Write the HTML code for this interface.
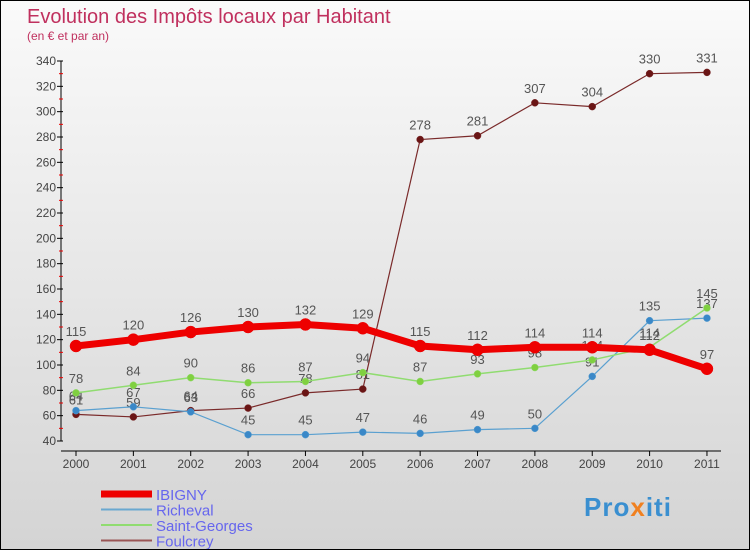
<!DOCTYPE html>
<html><head><meta charset="utf-8"><style>
body{margin:0}
#c{width:748px;height:548px;border:1px solid #000;background:linear-gradient(#fafafa,#d4d4d4);position:relative;font-family:"Liberation Sans",sans-serif}
</style></head><body>
<div id="c">
<svg id="s" width="748" height="548" xmlns="http://www.w3.org/2000/svg">
<text x="26" y="22" font-size="20" fill="#c0305e">Evolution des Impôts locaux par Habitant</text>
<text x="26" y="39" font-size="12" fill="#c0305e">(en € et par an)</text>
</svg></div>
<script>
const years=["2000","2001","2002","2003","2004","2005","2006","2007","2008","2009","2010","2011"];
const ibigny=[115,120,126,130,132,129,115,112,114,114,112,97];
const richeval=[64,67,63,45,45,47,46,49,50,91,135,137];
const saintGeorges=[78,84,90,86,87,94,87,93,98,104,114,145];
const foulcrey=[61,59,64,66,78,81,278,281,307,304,330,331];
const yTicks=[40,60,80,100,120,140,160,180,200,220,240,260,280,300,320,340];
const s=document.getElementById('s');const NS="http://www.w3.org/2000/svg";
function X(i){return 75+i*57.36}
function Y(v){return 440-(v-40)*380/300}
function mk(t,a,p){const e=document.createElementNS(NS,t);for(const k in a)e.setAttribute(k,a[k]);(p||s).appendChild(e);return e}
const ax=mk('line',{x1:60,y1:Y(340),x2:60,y2:Y(40),stroke:'#000','stroke-width':1});


yTicks.forEach(v=>{mk('line',{x1:56,x2:62,y1:Y(v),y2:Y(v),stroke:'#000'});
 if(v<340)mk('line',{x1:58,x2:62,y1:Y(v+10),y2:Y(v+10),stroke:'#e00'});
 const t=mk('text',{x:55,y:Y(v)+4,'text-anchor':'end','font-size':12,fill:'#444'});t.textContent=v;
 
 });
const xa=mk('line',{x1:60,x2:720,y1:450,y2:450,stroke:'#000'});


years.forEach((y,i)=>{mk('line',{x1:X(i),x2:X(i),y1:450,y2:455,stroke:'#000'});
 const t=mk('text',{x:X(i),y:467,'text-anchor':'middle','font-size':12,fill:'#444'});t.textContent=y;
 
 });
function series(d,col,w,r,name,ptcol){
 const g=mk('g',{});
 
 
 mk('polyline',{points:d.map((v,i)=>X(i)+','+Y(v)).join(' '),fill:'none',stroke:col,'stroke-width':w},g);
 d.forEach((v,i)=>{const c=mk('circle',{cx:X(i),cy:Y(v),r:r,fill:ptcol,stroke:col,'stroke-width':0.5},g);
  
  
  const t=mk('text',{x:X(i),y:Y(v)-10,'text-anchor':'middle','font-size':13,fill:'#555'},g);t.textContent=v;
  
  });
}
series(foulcrey,'#7a2a2a',1.2,3.5,'foulcrey','#6a1515');
series(richeval,'#5aa0d0',1.2,3.5,'richeval','#3a88c8');
series(saintGeorges,'#90dc70',1.5,3.5,'saint-georges','#80d040');
series(ibigny,'#ee0000',7,6,'ibigny','#ee0000');
const leg=[['IBIGNY','#ee0000',7],['Richeval','#6aa8d0',2],['Saint-Georges','#90dc70',2],['Foulcrey','#9a5555',2]];
leg.forEach((l,i)=>{const y=491+i*15.5;const g=mk('g',{});
 
 
 mk('line',{x1:100,x2:151,y1:y+2,y2:y+2,stroke:l[1],'stroke-width':l[2]},g);
 const t=mk('text',{x:155,y:y+8,'font-size':15,fill:'#6666ee'},g);t.textContent=l[0];});
const p=mk('text',{x:583,y:515,'font-size':26,'font-weight':'bold',fill:'#3a8fd0','letter-spacing':'1'});


const parts=[['Pro','#3a8fd0'],['x','#f08020'],['iti','#3a8fd0']];
parts.forEach(q=>{const ts=mk('tspan',{fill:q[1]},p);ts.textContent=q[0];});
</script>
</body></html>
